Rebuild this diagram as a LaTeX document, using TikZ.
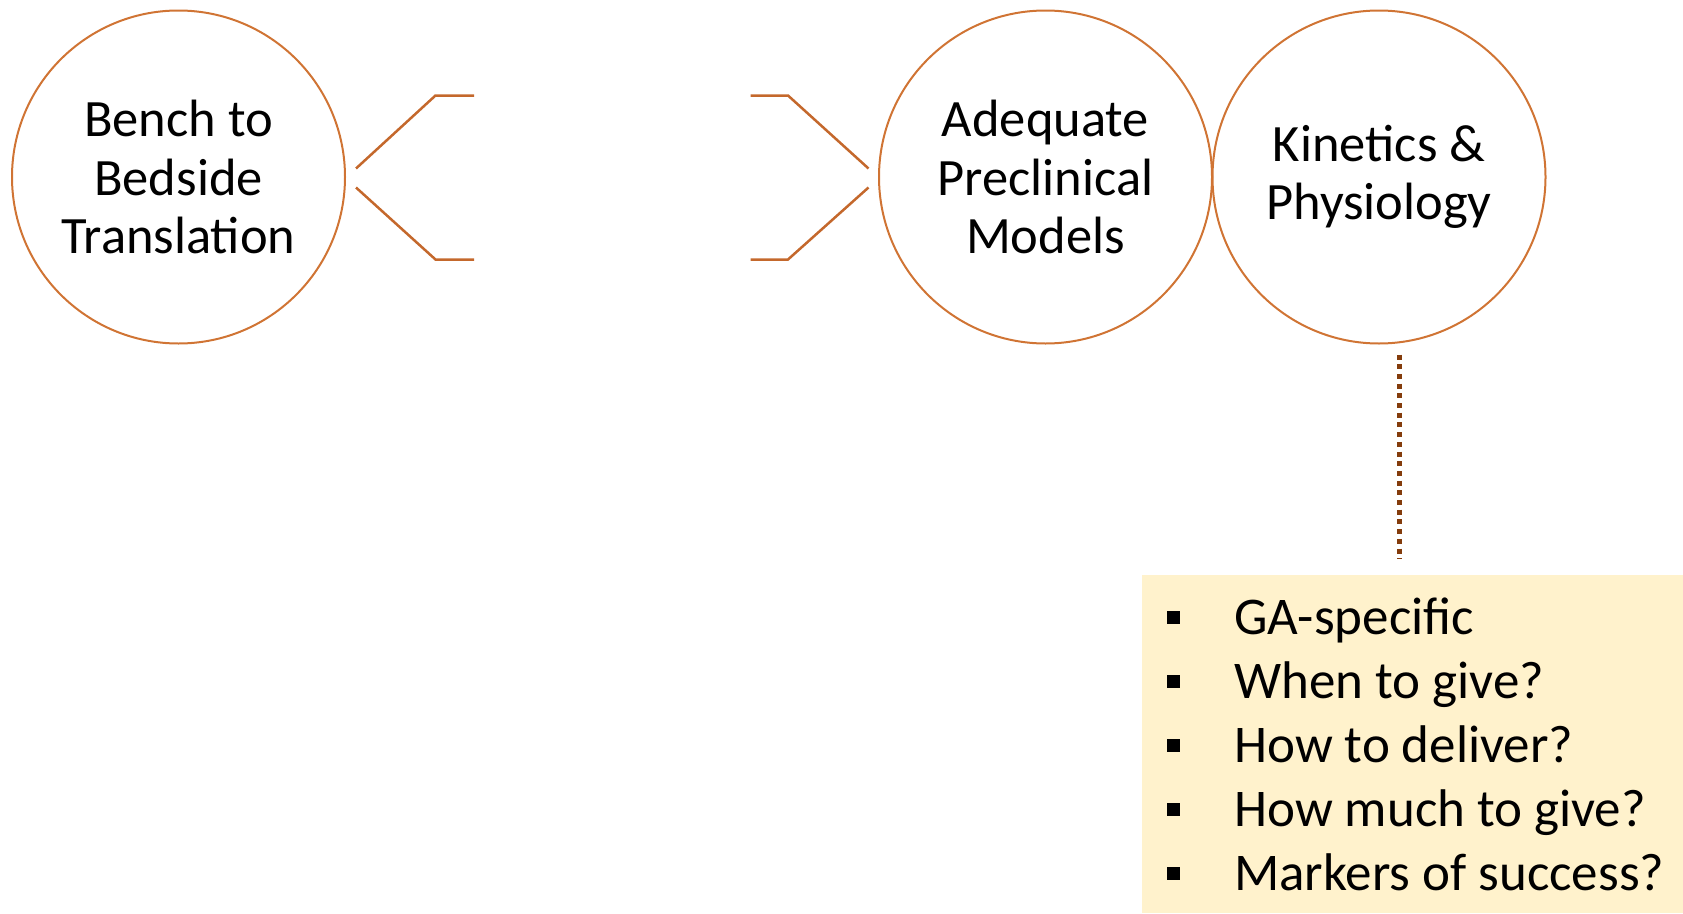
\documentclass[tikz,border=0pt]{standalone}
\usepackage{fontspec}
\setmainfont{Carlito}
\usetikzlibrary{calc}
\definecolor{rim}{RGB}{208, 116, 52}
\definecolor{brace}{RGB}{196, 104, 44}
\definecolor{umber}{RGB}{132, 60, 12}
\definecolor{cream}{RGB}{255, 242, 204}

\begin{document}
\begin{tikzpicture}[x=1pt, y=-1pt,
    bubble/.style={circle, draw=rim, line width=2, minimum size=333, inner sep=0,
      align=center, font=\fontsize{52.5}{58.5}\selectfont},
    prong/.style={draw=brace, line width=2.5},
    item/.style={anchor=base west, inner sep=0, font=\fontsize{53}{60}\selectfont},
    tick/.style={fill=black, minimum size=13, inner sep=0}]
  \useasboundingbox (0, 0) rectangle (1683, 913);

  % the three circles
  \node[bubble] (bench) at (178.5, 177) {Bench to\\Bedside\\Translation};
  \node[bubble] (models) at (1045.5, 177) {Adequate\\Preclinical\\Models};
  \node[bubble] (kinetics) at (1379, 177) {Kinetics \&\\Physiology};

  % open brackets between the first two
  \draw[prong] ($(bench.east) + (10, -8.5)$) -- ++(79.5, -73) -- ++(38.5, 0);
  \draw[prong] ($(bench.east) + (10, 10.5)$) -- ++(79.5, 72) -- ++(38.5, 0);
  \draw[prong] ($(models.west) + (-9.5, -8.5)$) -- ++(-80.5, -73) -- ++(-37.5, 0);
  \draw[prong] ($(models.west) + (-9.5, 10.5)$) -- ++(-80.5, 72) -- ++(-37.5, 0);

  % question box
  \node[fill=cream, anchor=north west, minimum width=541, minimum height=338, inner sep=0]
    (tasks) at (1142, 575) {};
  \draw[umber, line width=5, dash pattern=on 5 off 4.7]
    ($(kinetics.south) + (20.5, 10)$) -- ($(kinetics.south |- tasks.north) + (20.5, -16)$);

  \foreach \txt [count=\i] in {GA-specific, When to give?, How to deliver?,
      How much to give?, Markers of success?} {
    \node[item] (q\i) at (1234, 570 + 64 * \i) {\txt};
    \node[tick] at ($(q\i.base west) + (-61, -17)$) {};
  }
\end{tikzpicture}
\end{document}
